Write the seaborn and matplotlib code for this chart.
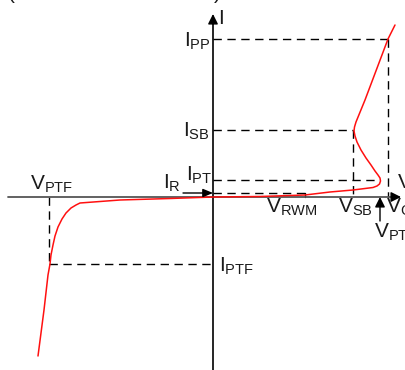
import matplotlib
matplotlib.use("Agg")
import matplotlib.pyplot as plt
import seaborn as sns
import pandas as pd

# I-V curve of the device (pixel-like units, y grows downward)
curve_v = [38, 44, 48, 50, 51, 53, 55, 58, 62, 66, 71, 76, 80, 120, 170, 213, 260, 305, 330,
           353, 373, 377, 379.5, 380.5, 380, 378, 375, 371, 366, 361, 357, 355, 354, 354.5,
           356, 365, 388, 395]
curve_i = [356, 310, 275, 264, 255, 245, 236, 227, 219, 213, 208, 205, 203, 200, 198.5, 197,
           196.5, 195, 192, 190, 187.5, 186, 184, 181, 178, 175, 171, 165, 158, 150, 142, 136,
           131, 127, 122, 100, 39, 25]

# characteristic levels
x_axis_y = 197
y_axis_x = 213
v_ptf, i_ptf = 49, 264
v_rwm, i_r = 305, 193
v_sb, i_sb = 353, 130
v_pt, i_pt = 380, 180
v_c, i_pp = 388, 39

labels = [
    # text, x, baseline
    (r"$\mathrm{I}$", 218, 24),
    (r"$\mathrm{I_{PP}}$", 184, 47),
    (r"$\mathrm{I_{SB}}$", 183, 137),
    (r"$\mathrm{I_{PT}}$", 186, 181),
    (r"$\mathrm{I_{R}}$", 163, 189),
    (r"$\mathrm{V_{PTF}}$", 30, 190),
    (r"$\mathrm{V_{RWM}}$", 266, 213),
    (r"$\mathrm{V_{SB}}$", 338, 213),
    (r"$\mathrm{V_{C}}$", 386, 213),
    (r"$\mathrm{V_{PT}}$", 374, 238),
    (r"$\mathrm{I_{PTF}}$", 219, 272),
    (r"$\mathrm{V}$", 397, 188),
    ("(", 8, -1),
    (")", 214, -1),
]


def main():
    sns.set_style("white")
    plt.rcParams["font.family"] = ["Liberation Sans", "DejaVu Sans"]
    plt.rcParams["mathtext.fontset"] = "custom"
    plt.rcParams["mathtext.rm"] = "Liberation Sans"
    plt.rcParams["mathtext.it"] = "Liberation Sans"

    fig = plt.figure(figsize=(4.06, 3.70), dpi=100)
    ax = fig.add_axes([0, 0, 1, 1])

    dash = dict(color="black", lw=1, ls=(0, (6, 4)))

    # dashed guide lines
    ax.plot([y_axis_x, v_c], [i_pp, i_pp], **dash)
    ax.plot([v_c, v_c], [i_pp, x_axis_y], **dash)
    ax.plot([y_axis_x, v_sb], [i_sb, i_sb], **dash)
    ax.plot([v_sb, v_sb], [i_sb, x_axis_y], **dash)
    ax.plot([y_axis_x, v_pt], [i_pt, i_pt], **dash)
    ax.plot([y_axis_x, v_rwm], [i_r, i_r], **dash)
    ax.plot([v_rwm, v_rwm], [i_r, x_axis_y], color="black", lw=1)
    ax.plot([v_ptf, v_ptf], [x_axis_y, i_ptf], **dash)
    ax.plot([v_ptf, y_axis_x], [i_ptf, i_ptf], **dash)

    # axes with arrows
    ax.plot([8, 394], [x_axis_y, x_axis_y], color="#555555", lw=1.3)
    ax.annotate("", xy=(401, x_axis_y), xytext=(392, x_axis_y),
                arrowprops=dict(arrowstyle="-|>,head_length=0.6,head_width=0.3",
                                color="black", lw=1, shrinkA=0, shrinkB=0))
    ax.plot([y_axis_x, y_axis_x], [370, 22], color="black", lw=1.2)
    ax.annotate("", xy=(y_axis_x, 14), xytext=(y_axis_x, 24),
                arrowprops=dict(arrowstyle="-|>,head_length=0.6,head_width=0.3",
                                color="black", lw=1, shrinkA=0, shrinkB=0))

    # I_R and V_PT pointers
    ax.annotate("", xy=(y_axis_x, i_r), xytext=(183, i_r),
                arrowprops=dict(arrowstyle="-|>,head_length=0.6,head_width=0.25",
                                color="black", lw=1, shrinkA=0, shrinkB=0))
    ax.annotate("", xy=(v_pt, x_axis_y), xytext=(v_pt, 221),
                arrowprops=dict(arrowstyle="-|>,head_length=0.6,head_width=0.3",
                                color="black", lw=1, shrinkA=0, shrinkB=0))

    # red I-V curve
    df = pd.DataFrame({"v": curve_v, "i": curve_i})
    sns.lineplot(data=df, x="v", y="i", sort=False, color="#ff1010", lw=1.1,
                 ax=ax, estimator=None)
    ax.set_xlim(0, 406)
    ax.set_ylim(370, 0)
    ax.axis("off")

    for text, x, y in labels:
        ax.text(x, y, text, fontsize=15, color="#1a1a1a", ha="left", va="baseline")

    fig.savefig("out.png", dpi=100)


if __name__ == "__main__":
    main()
